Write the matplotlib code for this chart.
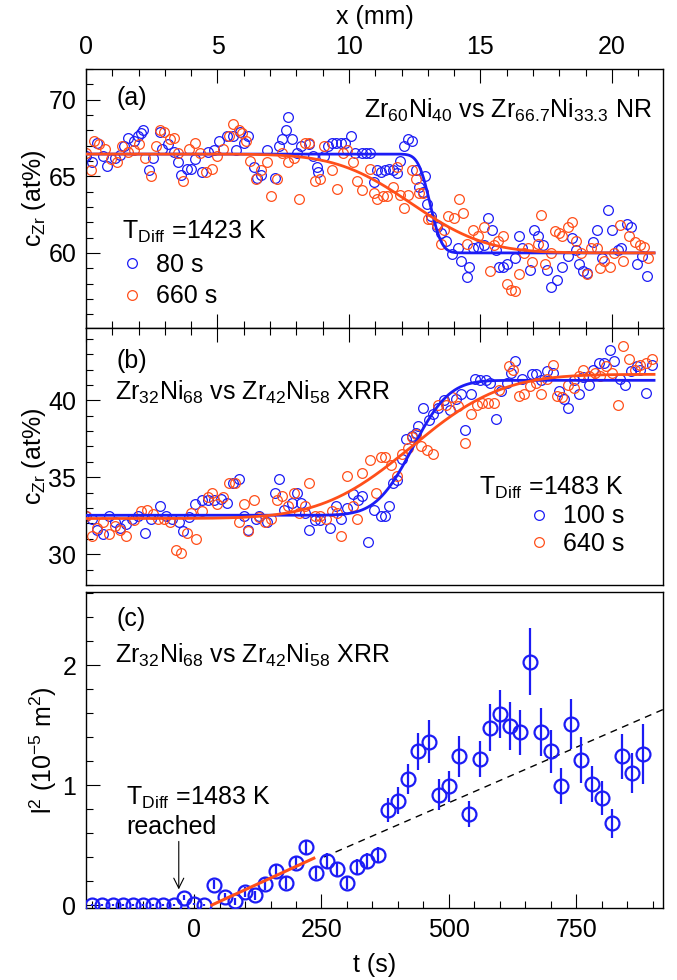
import math
import numpy as np
import matplotlib
matplotlib.use('Agg')
import matplotlib.pyplot as plt
from matplotlib.ticker import MultipleLocator

plt.rcParams['font.family'] = ['Liberation Sans', 'DejaVu Sans']
plt.rcParams['mathtext.default'] = 'regular'
plt.rcParams['font.size'] = 18

BLUE = '#1c1cf5'
ORANGE = '#ff4f1a'

# ---- panel (a): Zr60Ni40 vs Zr66.7Ni33.3, NR, 1423 K  (x in mm, c in at%)
a_80s = [
    (0.00, 66.3), (0.22, 65.9), (0.43, 67.2), (0.65, 66.3), (0.80, 65.7), (1.09, 66.2),
    (1.30, 66.4), (1.45, 67.0), (1.59, 67.5), (1.81, 67.3), (1.96, 67.6), (2.10, 67.8),
    (2.17, 68.0), (2.39, 65.4), (2.54, 66.2), (2.83, 67.9), (2.90, 66.8), (3.12, 67.1),
    (3.33, 66.6), (3.48, 65.9), (3.62, 65.1), (3.84, 65.5), (3.98, 65.5), (4.13, 66.1),
    (4.42, 65.3), (4.64, 66.6), (4.85, 66.7), (5.07, 67.3), (5.36, 67.6), (5.58, 67.6),
    (5.72, 66.7), (5.87, 67.9), (6.01, 67.2), (6.16, 67.6), (6.38, 65.6), (6.52, 64.9),
    (6.67, 65.1), (6.88, 66.7), (7.17, 64.9), (7.32, 67.0), (7.46, 67.4), (7.61, 68.0),
    (7.68, 68.9), (7.82, 67.4), (8.04, 66.5), (8.19, 67.0), (8.48, 67.1), (8.62, 66.3),
    (8.77, 65.6), (8.84, 65.3), (9.06, 66.3), (9.20, 67.0), (9.35, 67.2), (9.49, 67.2),
    (9.71, 67.2), (9.85, 67.2), (10.07, 67.6), (10.22, 66.5), (10.51, 66.5), (10.65, 66.5),
    (10.80, 66.5), (10.94, 64.6), (11.08, 65.4), (11.23, 65.3), (11.37, 65.4), (11.52, 65.5),
    (11.66, 65.4), (11.81, 65.2), (11.95, 66.0), (12.10, 67.0), (12.24, 67.4), (12.39, 67.3),
    (12.53, 65.4), (12.68, 64.3), (12.82, 64.0), (12.90, 65.0), (12.97, 63.2), (13.11, 62.4),
    (13.33, 61.7), (13.48, 61.3), (13.69, 60.8), (13.91, 59.9), (14.13, 60.3), (14.27, 59.5),
    (14.49, 58.4), (14.56, 59.1), (14.71, 60.3), (14.92, 60.4), (15.14, 60.5), (15.29, 62.3),
    (15.43, 61.5), (15.58, 60.2), (15.72, 59.1), (15.87, 59.1), (16.01, 59.3), (16.30, 59.7),
    (16.45, 61.1), (16.59, 60.3), (16.88, 58.9), (17.03, 61.5), (17.17, 61.1), (17.39, 60.5),
    (17.53, 58.9), (17.68, 57.8), (17.90, 58.2), (18.11, 59.1), (18.33, 59.8), (18.47, 61.0),
    (18.62, 60.2), (18.76, 59.3), (18.91, 58.8), (19.05, 58.7), (19.27, 60.7), (19.42, 61.5),
    (19.63, 59.7), (19.85, 62.8), (20.00, 61.5), (20.21, 60.2), (20.36, 60.3), (20.58, 61.9),
    (20.72, 61.7), (20.94, 59.3), (21.16, 59.8), (21.34, 58.5),
]
a_660s = [
    (0.00, 66.5), (0.19, 65.4), (0.29, 67.3), (0.51, 67.1), (0.72, 66.8), (0.94, 66.1),
    (1.16, 65.9), (1.38, 67.0), (1.59, 66.6), (1.81, 66.7), (2.03, 67.1), (2.25, 66.2),
    (2.46, 65.0), (2.68, 67.0), (2.83, 68.0), (2.97, 67.9), (3.19, 67.4), (3.33, 67.5),
    (3.48, 66.5), (3.69, 64.7), (3.91, 66.8), (4.13, 67.2), (4.35, 66.5), (4.56, 65.3),
    (4.78, 65.5), (5.00, 66.3), (5.22, 66.8), (5.43, 67.6), (5.58, 68.4), (5.80, 68.0),
    (5.94, 67.8), (6.09, 67.3), (6.23, 66.0), (6.45, 64.8), (6.67, 65.4), (6.88, 65.9),
    (7.03, 63.7), (7.25, 64.8), (7.46, 66.5), (7.68, 65.9), (7.90, 66.2), (8.11, 63.5),
    (8.33, 67.2), (8.48, 67.2), (8.69, 64.7), (8.91, 64.8), (9.06, 67.0), (9.35, 65.4),
    (9.56, 64.2), (9.78, 66.5), (9.93, 66.7), (10.14, 65.9), (10.29, 64.7), (10.51, 64.1),
    (10.80, 65.5), (10.94, 63.9), (11.08, 63.5), (11.30, 63.7), (11.45, 63.7), (11.66, 64.3),
    (11.81, 65.6), (11.95, 63.8), (12.10, 62.9), (12.24, 63.8), (12.39, 65.4), (12.53, 64.8),
    (12.68, 63.9), (12.82, 63.9), (13.00, 62.2), (13.11, 62.2), (13.33, 61.8), (13.48, 60.6),
    (13.62, 61.5), (13.77, 62.4), (13.98, 62.3), (14.20, 63.5), (14.35, 62.6), (14.49, 60.6),
    (14.71, 61.5), (14.92, 61.1), (15.14, 61.7), (15.36, 58.8), (15.50, 60.5), (15.65, 60.8),
    (15.87, 61.1), (16.01, 58.0), (16.16, 57.6), (16.30, 57.5), (16.45, 58.6), (16.66, 60.0),
    (16.81, 60.3), (16.95, 59.4), (17.17, 60.6), (17.32, 62.5), (17.46, 59.3), (17.68, 60.0),
    (17.82, 61.4), (17.97, 61.3), (18.11, 61.1), (18.33, 61.7), (18.47, 62.0), (18.62, 60.8),
    (18.84, 60.0), (19.05, 58.6), (19.20, 60.3), (19.42, 60.3), (19.56, 59.0), (19.71, 59.5),
    (19.92, 59.1), (20.07, 60.0), (20.29, 61.8), (20.43, 59.5), (20.65, 61.1), (20.87, 60.7),
    (21.08, 60.5), (21.23, 60.4), (21.37, 59.7),
]
# erf fits: (c_left, c_right, centre, width)
a_fit_80s = (66.45, 60.0, 13.08, 0.5)
a_fit_660s = (66.45, 60.0, 12.37, 3.15)

# ---- panel (b): Zr32Ni68 vs Zr42Ni58, XRR, 1483 K
b_100s = [
    (0.00, 32.5), (0.22, 32.3), (0.43, 31.6), (0.65, 31.3), (0.87, 32.5), (1.09, 32.1),
    (1.30, 31.7), (1.52, 31.95), (1.74, 32.3), (1.96, 32.5), (2.25, 31.4), (2.46, 32.3),
    (2.83, 33.15), (3.04, 32.5), (3.26, 32.3), (3.55, 32.1), (3.69, 31.5), (3.91, 32.4),
    (4.13, 33.25), (4.42, 33.5), (4.64, 33.5), (4.85, 33.5), (5.14, 33.6), (5.36, 33.35),
    (5.58, 34.65), (5.80, 34.9), (6.01, 32.5), (6.16, 31.6), (6.45, 32.3), (6.59, 32.5),
    (6.88, 32.1), (7.17, 34.0), (7.32, 34.9), (7.54, 32.9), (7.82, 33.35), (8.04, 34.0),
    (8.19, 33.35), (8.33, 32.7), (8.48, 31.6), (8.69, 32.2), (8.91, 32.2), (9.27, 31.7),
    (9.49, 33.15), (9.71, 32.3), (9.93, 33.0), (10.14, 33.9), (10.36, 33.5), (10.51, 33.8),
    (10.72, 30.8), (10.94, 32.9), (11.23, 32.5), (11.37, 32.5), (11.52, 33.15), (11.66, 34.65),
    (11.81, 34.8), (12.02, 36.2), (12.17, 37.5), (12.39, 37.7), (12.53, 37.9), (12.61, 38.3),
    (12.82, 39.5), (13.04, 38.7), (13.19, 39.1), (13.40, 39.5), (13.62, 40.0), (13.84, 39.4),
    (14.06, 40.1), (14.27, 40.4), (14.42, 38.1), (14.64, 40.4), (14.78, 41.4), (15.00, 41.3),
    (15.22, 41.3), (15.36, 41.15), (15.58, 38.8), (15.79, 40.6), (16.01, 41.15), (16.16, 41.8),
    (16.30, 42.55), (16.59, 41.4), (16.95, 41.7), (17.10, 41.7), (17.32, 41.3), (17.53, 41.9),
    (17.75, 41.8), (17.97, 40.6), (18.18, 40.1), (18.33, 39.5), (18.54, 41.3), (18.76, 40.4),
    (18.91, 41.5), (19.12, 41.0), (19.27, 42.0), (19.49, 42.45), (19.71, 42.45), (19.92, 43.3),
    (20.07, 42.55), (20.29, 41.4), (20.50, 41.0), (20.72, 41.9), (20.94, 42.2), (21.08, 42.0),
    (21.30, 40.5), (21.52, 42.3),
]
b_640s_x = [
    0.00, 0.22, 0.43, 0.65, 0.87, 1.09, 1.30, 1.52, 1.81, 2.10,
    2.32, 2.54, 2.75, 2.97, 3.19, 3.41, 3.62, 3.84, 3.98, 4.20,
    4.42, 4.64, 4.78, 5.00, 5.22, 5.43, 5.65, 5.80, 6.01, 6.16,
    6.38, 6.59, 6.81, 7.03, 7.25, 7.46, 7.68, 7.90, 8.11, 8.33,
    8.48, 8.69, 8.91, 9.13, 9.35, 9.56, 9.71, 9.93, 10.14, 10.29,
    10.51, 10.80, 11.01, 11.23, 11.37, 11.59, 11.81, 12.02, 12.24, 12.39,
    12.53, 12.75, 12.97, 13.19, 13.40, 13.69, 13.91, 14.13, 14.42, 14.64,
    14.85, 15.07, 15.29, 15.50, 15.72, 16.08, 16.23, 16.45, 16.66, 16.88,
    17.10, 17.32, 17.53, 17.75, 17.90, 18.11, 18.33, 18.54, 18.76, 18.91,
    19.12, 19.34, 19.56, 19.78, 19.99, 20.21, 20.43, 20.65, 20.87, 21.08,
    21.30, 21.52,
]
b_640s_c = [
    32.5, 31.2, 31.7, 32.1, 31.3, 31.85, 31.6, 31.2, 32.2, 32.8,
    32.9, 32.6, 32.3, 32.3, 32.1, 30.3, 30.1, 31.4, 32.7, 31.0,
    32.8, 33.7, 34.0, 33.25, 33.7, 34.65, 34.65, 32.1, 33.25, 31.5,
    33.5, 32.4, 32.1, 32.3, 33.5, 33.8, 33.15, 34.0, 32.7, 33.15,
    34.65, 32.5, 32.5, 32.3, 32.8, 32.7, 31.2, 35.1, 33.15, 32.3,
    35.3, 36.1, 34.0, 36.3, 36.3, 35.8, 35.1, 36.5, 36.9, 37.6,
    37.8, 37.0, 36.8, 36.5, 39.7, 39.7, 40.2, 39.6, 37.25, 39.1,
    39.7, 39.85, 39.85, 39.85, 40.7, 42.2, 42.0, 40.3, 40.4, 40.9,
    41.15, 40.4, 41.4, 42.3, 40.3, 40.2, 41.0, 40.8, 41.6, 42.0,
    41.6, 41.8, 41.6, 42.2, 41.8, 39.7, 43.5, 42.7, 42.0, 42.3,
    42.45, 42.7,
]
b_fit_100s = (32.53, 41.3, 12.42, 1.55)
b_fit_640s = (32.32, 41.69, 12.39, 3.8)

# ---- panel (c): l^2 vs annealing time
t_s = [-200, -180, -160, -140, -120, -100, -80, -60, -40, -20, 0, 20, 40, 60, 80,
       100, 120, 140, 160, 180, 200, 220, 240, 260, 280, 300, 320, 340, 360, 380,
       400, 420, 440, 460, 480, 500, 520, 540, 560, 580, 600, 620, 640, 660, 680,
       700, 720, 740, 760, 780, 800, 820, 840, 860, 880]
l2 = [0.0, 0.0, 0.0, 0.0, 0.0, 0.0, 0.0, 0.0, 0.0, 0.06, 0.01, 0.0, 0.17, 0.07, 0.03,
      0.11, 0.08, 0.175, 0.28, 0.18, 0.35, 0.48, 0.27, 0.37, 0.30, 0.18, 0.32, 0.37, 0.42, 0.79,
      0.87, 1.05, 1.28, 1.36, 0.92, 0.99, 1.24, 0.76, 1.22, 1.48, 1.59, 1.49, 1.44, 2.03, 1.44,
      1.28, 0.99, 1.51, 1.21, 1.01, 0.89, 0.68, 1.24, 1.10, 1.26]
l2_err = [0.01, 0.01, 0.01, 0.01, 0.01, 0.01, 0.01, 0.01, 0.01, 0.02, 0.01, 0.01, 0.04, 0.03, 0.03,
          0.04, 0.04, 0.05, 0.05, 0.05, 0.05, 0.06, 0.05, 0.06, 0.06, 0.05, 0.06, 0.06, 0.06, 0.10,
          0.11, 0.125, 0.155, 0.18, 0.13, 0.13, 0.17, 0.11, 0.15, 0.20, 0.20, 0.20, 0.19, 0.28, 0.20,
          0.18, 0.15, 0.21, 0.19, 0.15, 0.14, 0.12, 0.19, 0.17, 0.25]
early_fit_t = [35, 235]
early_fit_l2 = [0.0, 0.39]
late_fit_t = [255, 920]
late_fit_l2 = [0.40, 1.63]


def erf_profile(x, fit):
    left, right, x0, w = fit
    e = np.array([math.erf((v - x0) / w) for v in x])
    return 0.5 * (left + right) + 0.5 * (right - left) * e


def style_axes(ax):
    for s in ax.spines.values():
        s.set_linewidth(1.0)
    ax.tick_params(which='both', direction='in', width=0.8, pad=7)
    ax.tick_params(which='major', length=10)
    ax.tick_params(which='minor', length=5)


W, H = 677, 980
fig = plt.figure(figsize=(W / 100, H / 100), dpi=100)
left, right = 86 / W, 663 / W
ax_a = fig.add_axes([left, 1 - 328 / H, right - left, 259 / H])
ax_b = fig.add_axes([left, 1 - 585 / H, right - left, 257 / H])
ax_c = fig.add_axes([left, 1 - 908 / H, right - left, 316 / H])

xfit = np.linspace(0, 21.6, 400)
mk = dict(ls='none', marker='o', ms=7, mfc='none', mew=0.9)

# panel a
xa, ca = np.array(a_80s).T
xo, co = np.array(a_660s).T
h1, = ax_a.plot(xa, ca, color=BLUE, **mk)
h2, = ax_a.plot(xo, co, color=ORANGE, **mk)
ax_a.plot(xfit, erf_profile(xfit, a_fit_80s), color=BLUE, lw=2, zorder=4)
ax_a.plot(xfit, erf_profile(xfit, a_fit_660s), color=ORANGE, lw=2, zorder=4)
ax_a.set_xlim(0, 21.94)
ax_a.set_ylim(55.1, 72.0)
ax_a.xaxis.set_major_locator(MultipleLocator(5))
ax_a.xaxis.set_minor_locator(MultipleLocator(1))
ax_a.yaxis.set_major_locator(MultipleLocator(5))
ax_a.yaxis.set_minor_locator(MultipleLocator(1))
style_axes(ax_a)
ax_a.tick_params(axis='x', which='both', top=True, labeltop=True, bottom=True, labelbottom=False)
ax_a.xaxis.set_label_position('top')
ax_a.set_xlabel('x (mm)', labelpad=8)
ax_a.set_ylabel('c$_{Zr}$ (at%)', labelpad=0)
ax_a.text(0.052, 0.888, '(a)', transform=ax_a.transAxes, va='center', ha='left')
ax_a.text(0.981, 0.842, 'Zr$_{60}$Ni$_{40}$ vs Zr$_{66.7}$Ni$_{33.3}$ NR',
          transform=ax_a.transAxes, va='center', ha='right')
ax_a.legend([h1, h2], ['80 s', '660 s'], title='T$_{Diff}$ =1423 K', loc='upper left',
            bbox_to_anchor=(0.062, 0.42), frameon=False, handlelength=0.8,
            handletextpad=0.55, borderaxespad=0, borderpad=0, labelspacing=0.3,
            alignment='left', fontsize=18, title_fontsize=18)

# panel b
xb, cb = np.array(b_100s).T
g1, = ax_b.plot(xb, cb, color=BLUE, **mk)
g2, = ax_b.plot(b_640s_x, b_640s_c, color=ORANGE, **mk)
ax_b.plot(xfit, erf_profile(xfit, b_fit_100s), color=BLUE, lw=2, zorder=4)
ax_b.plot(xfit, erf_profile(xfit, b_fit_640s), color=ORANGE, lw=2, zorder=4)
ax_b.set_xlim(0, 21.94)
ax_b.set_ylim(28.0, 44.7)
ax_b.xaxis.set_major_locator(MultipleLocator(5))
ax_b.xaxis.set_minor_locator(MultipleLocator(1))
ax_b.yaxis.set_major_locator(MultipleLocator(5))
ax_b.yaxis.set_minor_locator(MultipleLocator(1))
style_axes(ax_b)
ax_b.tick_params(axis='x', which='both', top=True, labeltop=False, bottom=False, labelbottom=False)
ax_b.set_ylabel('c$_{Zr}$ (at%)', labelpad=0)
ax_b.text(0.052, 0.872, '(b)', transform=ax_b.transAxes, va='center', ha='left')
ax_b.text(0.05, 0.75, 'Zr$_{32}$Ni$_{68}$ vs Zr$_{42}$Ni$_{58}$ XRR',
          transform=ax_b.transAxes, va='center', ha='left')
ax_b.legend([g1, g2], ['100 s', '640 s'], title='T$_{Diff}$ =1483 K', loc='upper right',
            bbox_to_anchor=(0.933, 0.43), frameon=False, handlelength=0.8,
            handletextpad=0.55, borderaxespad=0, borderpad=0, labelspacing=0.15,
            alignment='right', fontsize=18, title_fontsize=18)

# panel c
ax_c.errorbar(t_s, l2, yerr=l2_err, ls='none', marker='o', ms=10, mfc='none',
              mec=BLUE, mew=1.6, ecolor=BLUE, elinewidth=1.6, capsize=0, zorder=3)
ax_c.plot(early_fit_t, early_fit_l2, color=ORANGE, lw=2.2, zorder=4)
ax_c.plot(late_fit_t, late_fit_l2, color='black', lw=1.0, ls=(0, (5, 4)), zorder=2)
ax_c.set_xlim(-212, 920)
ax_c.set_ylim(-0.025, 2.61)
ax_c.xaxis.set_major_locator(MultipleLocator(250))
ax_c.xaxis.set_minor_locator(MultipleLocator(50))
ax_c.yaxis.set_major_locator(MultipleLocator(1))
ax_c.yaxis.set_minor_locator(MultipleLocator(0.2))
style_axes(ax_c)
ax_c.set_xlabel('t (s)', labelpad=8)
ax_c.set_ylabel('l$^2$ (10$^{-5}$ m$^2$)', labelpad=2)
ax_c.text(0.052, 0.915, '(c)', transform=ax_c.transAxes, va='center', ha='left')
ax_c.text(0.05, 0.80, 'Zr$_{32}$Ni$_{68}$ vs Zr$_{42}$Ni$_{58}$ XRR',
          transform=ax_c.transAxes, va='center', ha='left')
ax_c.text(-133, 0.89, 'T$_{Diff}$ =1483 K', ha='left', va='center')
ax_c.text(-133, 0.65, 'reached', ha='left', va='center')
ax_c.annotate('', xy=(-30, 0.13), xytext=(-30, 0.53),
              arrowprops=dict(arrowstyle='->', lw=0.8, color='black', mutation_scale=18,
                              shrinkA=0, shrinkB=0))

fig.savefig('out.png', dpi=100)
